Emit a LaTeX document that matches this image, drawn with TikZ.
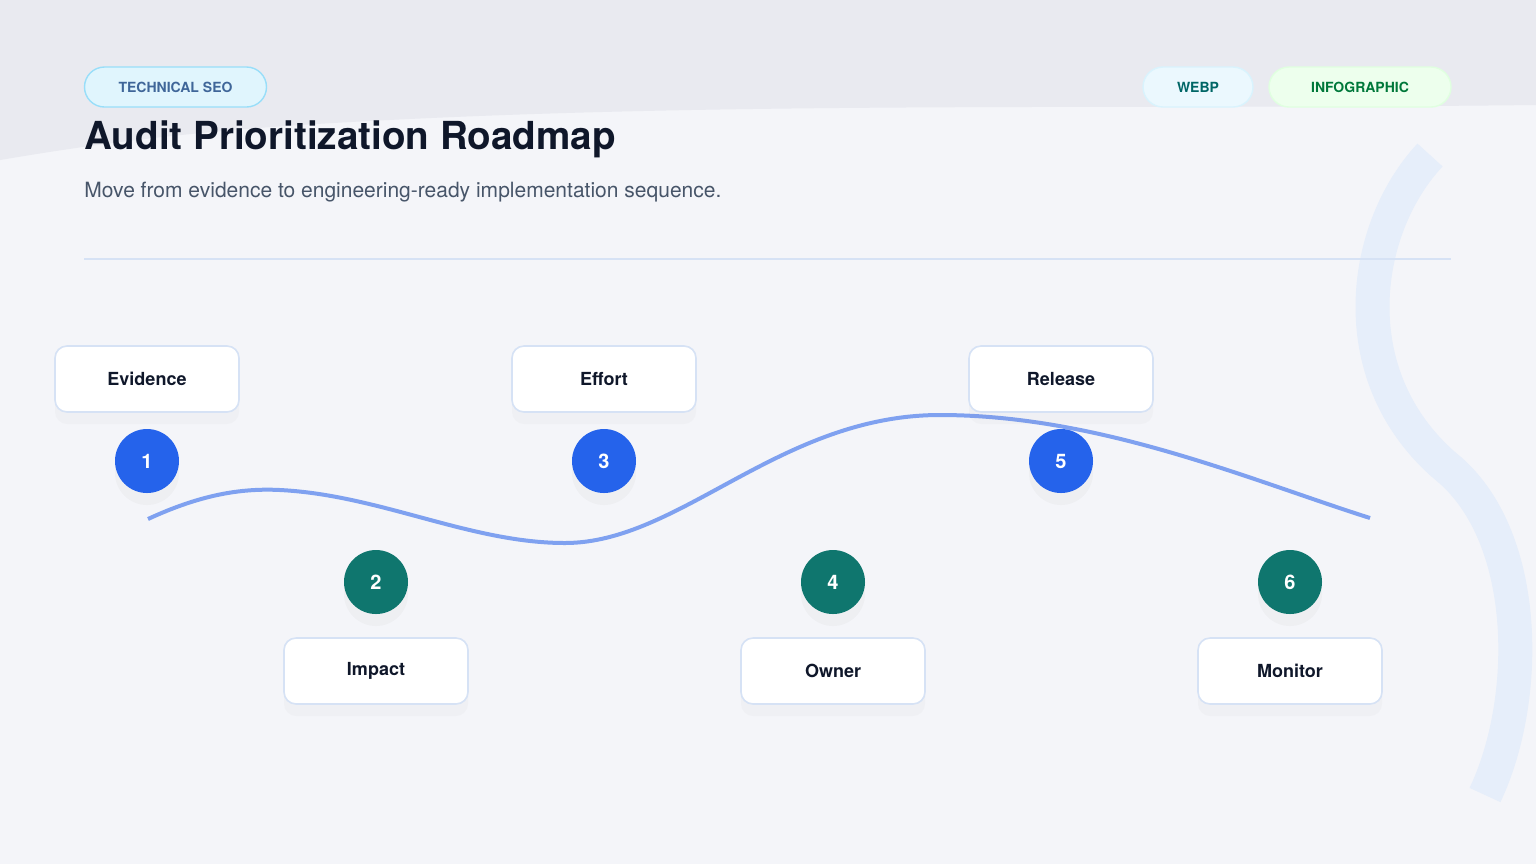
\documentclass[tikz,border=0pt]{standalone}
\usepackage{fontspec}
\setmainfont{TeX Gyre Heros}
\usetikzlibrary{shadows}
\definecolor{bgtop}{HTML}{E9EAF0}
\definecolor{bgmain}{HTML}{F4F5F9}
\definecolor{navy}{HTML}{0F172A}
\definecolor{subgray}{HTML}{475569}
\definecolor{blueC}{HTML}{2563EB}
\definecolor{tealC}{HTML}{0F766E}
\definecolor{waveC}{HTML}{7FA1F0}
\definecolor{boxline}{HTML}{D6E2F5}
\definecolor{arcC}{HTML}{E6EEFA}
\begin{document}
\begin{tikzpicture}[x=0.5pt,y=-0.5pt,
  stepbox/.style={draw=boxline,line width=0.8pt,fill=white,rounded corners=6pt,minimum width=92pt,minimum height=33pt,font=\bfseries\fontsize{9}{10}\selectfont,text=navy,drop shadow={opacity=0.035,shadow xshift=0pt,shadow yshift=-6pt}},
  numdot/.style={circle,minimum size=32pt,inner sep=0pt,text=white,font=\bfseries\fontsize{10}{11}\selectfont,drop shadow={opacity=0.05,shadow xshift=0pt,shadow yshift=-6pt}},
  pill/.style={rounded corners=10pt,minimum height=20pt,line width=0.7pt,font=\bfseries\fontsize{7}{8}\selectfont}]
\useasboundingbox (0,0) rectangle (1536,864);
\fill[bgmain] (0,0) rectangle (1536,864);
\fill[bgtop] (0,0) -- (1536,0) -- (1536,105) .. controls (1100,110) and (700,100) .. (300,125) .. controls (150,135) and (60,150) .. (0,160) -- cycle;
\draw[line width=17pt,color=arcC] (1430,155) .. controls (1360,230) and (1340,380) .. (1450,470) .. controls (1530,540) and (1530,700) .. (1485,795);
% badges
\node[pill,draw=cyan!40,fill=cyan!12,text=cyan!50!blue!70!black,minimum width=91pt] (b1) at (175.5,87) {TECHNICAL SEO};
\node[pill,draw=cyan!15,fill=cyan!8,text=teal!80!black,minimum width=55pt] (b2) at (1198,87) {WEBP};
\node[pill,draw=green!12,fill=green!7,text=green!35!teal!70!black,minimum width=91pt] (b3) at (1360,87) {INFOGRAPHIC};
\node[anchor=base west,inner sep=0pt,text=navy,font=\bfseries\fontsize{19.3}{22}\selectfont] (title) at (84,149) {Audit Prioritization Roadmap};
\node[anchor=base west,inner sep=0pt,text=subgray,font=\fontsize{10.5}{12}\selectfont] (sub) at (84,197) {Move from evidence to engineering-ready implementation sequence.};
\coordinate (l1) at (84,259); \coordinate (l2) at (1451,259);
\draw[boxline,line width=0.8pt] (l1) -- (l2);
% wave
\coordinate (w0) at (148,519); \coordinate (w4) at (1370,518);
\draw[waveC,line width=2pt] (w0) .. controls (200,495) and (240,488) .. (280,490) .. controls (380,495) and (470,543) .. (565,543) .. controls (680,543) and (780,415) .. (940,415) .. controls (1100,415) and (1250,480) .. (w4);
% boxes
\node[stepbox] (e) at (147,379) {Evidence};
\node[stepbox] (ef) at (604,379) {Effort};
\node[stepbox] (r) at (1061,379) {Release};
\node[stepbox] (i) at (376,671) {Impact};
\node[stepbox] (o) at (833,671) {Owner};
\node[stepbox] (m) at (1290,671) {Monitor};
\node[numdot,fill=blueC] (n1) at (147,461) {1};
\node[numdot,fill=blueC] (n3) at (604,461) {3};
\node[numdot,fill=blueC] (n5) at (1061,461) {5};
\node[numdot,fill=tealC] (n2) at (376,582) {2};
\node[numdot,fill=tealC] (n4) at (833,582) {4};
\node[numdot,fill=tealC] (n6) at (1290,582) {6};
\end{tikzpicture}
\end{document}
